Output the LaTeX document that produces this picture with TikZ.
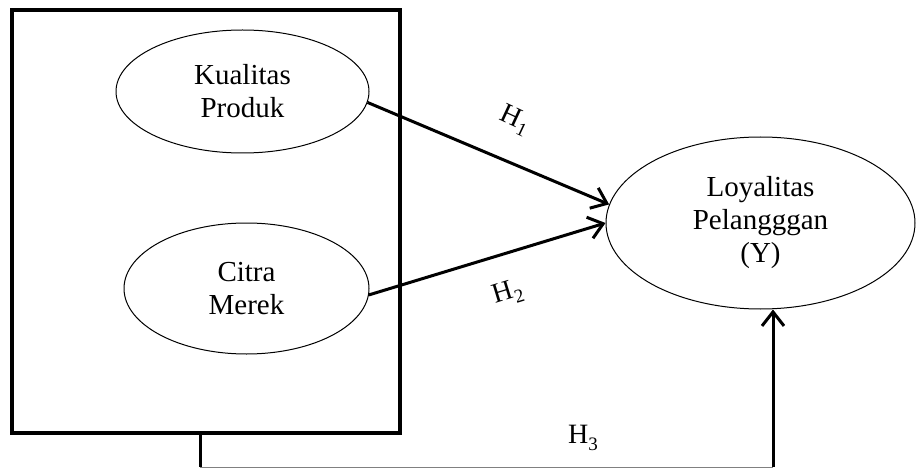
\documentclass[tikz,border=0pt]{standalone}
\usepackage{fontspec}
\setmainfont{Liberation Serif}
\usetikzlibrary{shapes.geometric,arrows.meta}
\tikzset{
  var/.style={draw=black, line width=1pt, ellipse, inner sep=0pt, align=center,
    font=\fontsize{29}{33}\selectfont},
  path/.style={line width=3pt, -{Straight Barb[length=14pt,width=22pt,line width=3pt]}},
  hlab/.style={font=\fontsize{28}{28}\selectfont, inner sep=0pt},
}
\newcommand{\hsub}[1]{H\raisebox{-0.22em}{\fontsize{19}{19}\selectfont #1}}
\begin{document}
\begin{tikzpicture}[x=1pt,y=-1pt]
\useasboundingbox (0,0) rectangle (916,468);
\node[draw, line width=3.5pt, minimum width=388pt, minimum height=423pt, inner sep=0pt] (box) at (206,221.5) {};
\node[var, minimum width=253pt, minimum height=123pt] (kp) at (242.5,91.5) {Kualitas\\Produk};
\node[var, minimum width=245pt, minimum height=131pt] (cm) at (246.5,288.5) {Citra\\Merek};
\node[var, minimum width=309pt, minimum height=172pt] (ly) at (760.5,223) {Loyalitas\\Pelangggan\\(Y)};
\coordinate (h3a) at (200,433);
\coordinate (h3b) at (200,467);
\coordinate (h3c) at (773,467);
\draw[path] (kp.-5) -- (ly.173);
\draw[path] (cm.-3.5) -- (ly.180);
\draw[line width=3pt] (h3a) -- (h3b);
\draw[line width=1pt, gray] (h3b) -- (h3c);
\draw[path] (h3c) -- (h3c |- ly.south);
\node[hlab, rotate=-25] (l1) at (515,120) {\hsub{1}};
\node[hlab, rotate=17] (l2) at (508,293) {\hsub{2}};
\node[hlab] (l3) at (583,438) {\hsub{3}};
\end{tikzpicture}
\end{document}
